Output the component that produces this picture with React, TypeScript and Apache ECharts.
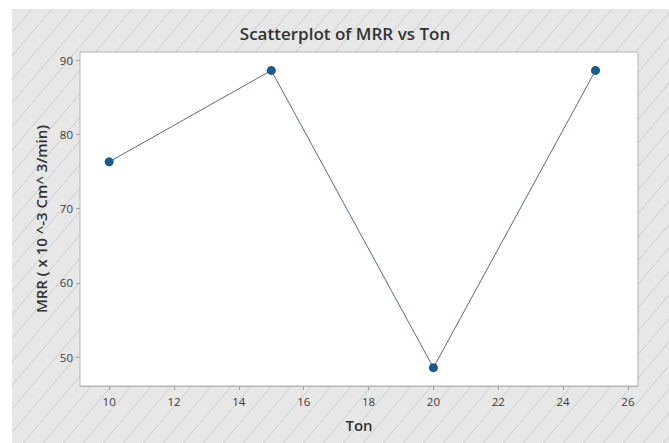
import React, { useEffect, useRef } from "react";
import * as echarts from "echarts";

const tonValues = [10, 15, 20, 25];
const mrrValues = [76.3, 88.6, 48.6, 88.6];
const xTicks = [10, 12, 14, 16, 18, 20, 22, 24, 26];
const yTicks = [50, 60, 70, 80, 90];

const W = 669;
const H = 443;

function hatchLines() {
  const x0 = 12, x1 = W, y0 = 9, y1 = H;
  const h = y1 - y0;
  const k = 0.85;
  const step = 20;
  const els: any[] = [
    { type: "rect", shape: { x: x0, y: y0, width: x1 - x0, height: y1 - y0 }, style: { fill: "#e7e7e7" }, z: -20, silent: true },
  ];
  for (let c = x0 - k * h; c <= x1; c += step) {
    const tmin = Math.max(0, (x0 - c) / k);
    const tmax = Math.min(h, (x1 - c) / k);
    if (tmin >= tmax) continue;
    els.push({
      type: "line",
      shape: { x1: c + k * tmin, y1: y1 - tmin, x2: c + k * tmax, y2: y1 - tmax },
      style: { stroke: "#cbcbcb", lineWidth: 1 },
      z: -10,
      silent: true,
    });
  }
  return els;
}

export default function App() {
  const ref = useRef<HTMLDivElement>(null);
  useEffect(() => {
    if (!ref.current) return;
    const chart = echarts.init(ref.current, undefined, { renderer: "svg" });
    const font = "'Open Sans', 'Noto Sans', sans-serif";
    chart.setOption({
      animation: false,
      backgroundColor: "#ffffff",
      textStyle: { fontFamily: font },
      title: {
        text: "Scatterplot of MRR vs Ton",
        left: 340,
        top: 20,
        textAlign: "center",
        textStyle: { fontFamily: font, fontSize: 17, fontWeight: 600, color: "#333333" },
      },
      graphic: hatchLines(),
      grid: {
        left: 80,
        top: 52,
        right: W - 638,
        bottom: H - 386,
        show: true,
        backgroundColor: "#ffffff",
        borderColor: "#b4b4b4",
        borderWidth: 1,
        z: 2,
      },
      xAxis: {
        type: "value",
        min: 9.1,
        max: 26.31,
        name: "Ton",
        nameLocation: "middle",
        nameGap: 31,
        nameTextStyle: { fontFamily: font, fontSize: 15, fontWeight: 600, color: "#333333" },
        axisLine: { show: true, lineStyle: { color: "#b4b4b4" } },
        axisTick: { show: true, length: 4, customValues: xTicks, lineStyle: { color: "#a0a0a0" } },
        axisLabel: { customValues: xTicks, margin: 9, fontSize: 11.5, color: "#3a3a3a", fontFamily: font },
        splitLine: { show: false },
      },
      yAxis: {
        type: "value",
        min: 46.14,
        max: 91.08,
        name: "MRR ( x 10 ^-3 Cm^ 3/min)",
        nameLocation: "middle",
        nameGap: 27,
        nameTextStyle: { fontFamily: font, fontSize: 15, fontWeight: 600, color: "#333333" },
        axisLine: { show: true, lineStyle: { color: "#b4b4b4" } },
        axisTick: { show: true, length: 4, customValues: yTicks, lineStyle: { color: "#a0a0a0" } },
        axisLabel: { customValues: yTicks, margin: 7, fontSize: 11.5, color: "#3a3a3a", fontFamily: font },
        splitLine: { show: false },
      },
      series: [
        {
          type: "line",
          data: tonValues.map((t, i) => [t, mrrValues[i]]),
          symbol: "circle",
          symbolSize: 9,
          lineStyle: { color: "#5f6b78", width: 1 },
          itemStyle: { color: "#1b5a8c" },
          z: 5,
        },
      ],
    });
    return () => chart.dispose();
  }, []);
  return (
    <div
      ref={ref}
      style={{ position: "fixed", left: 0, top: 0, width: W, height: H, background: "#fff" }}
    />
  );
}
